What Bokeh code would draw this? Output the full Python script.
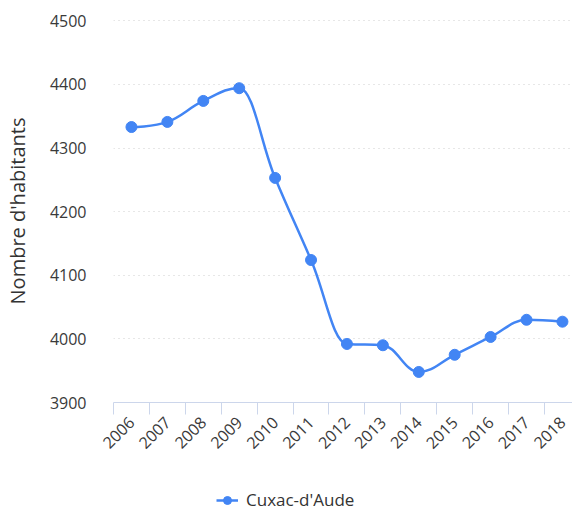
import numpy as np
from bokeh.plotting import figure
from bokeh.layouts import column
from bokeh.models import FixedTicker, Range1d, Legend, LegendItem
from bokeh.embed import file_html
from bokeh.resources import INLINE

years = ["2006", "2007", "2008", "2009", "2010", "2011", "2012",
         "2013", "2014", "2015", "2016", "2017", "2018"]
population = [4333, 4341, 4374, 4394, 4253, 4124, 3992,
              3990, 3948, 3975, 4003, 4030, 4027]
series_name = "Cuxac-d'Aude"
y_ticks = [3900, 4000, 4100, 4200, 4300, 4400, 4500]

BLUE = "#4285F4"
FONT = "Open Sans"

x = np.arange(len(years), dtype=float)
y = np.array(population, dtype=float)

# Highcharts-style spline control points
n = len(x)
left_c = [None] * n
right_c = [None] * n
sm = 1.5
den = sm + 1
for i in range(1, n - 1):
    px, py = x[i], y[i]
    lx, ly = x[i - 1], y[i - 1]
    nx, ny = x[i + 1], y[i + 1]
    lcx = (sm * px + lx) / den
    lcy = (sm * py + ly) / den
    rcx = (sm * px + nx) / den
    rcy = (sm * py + ny) / den
    if rcx != lcx:
        corr = ((rcy - lcy) * (rcx - px)) / (rcx - lcx) + py - rcy
        lcy += corr
        rcy += corr
    if lcy > max(ly, py):
        lcy = max(ly, py)
        rcy = 2 * py - lcy
    elif lcy < min(ly, py):
        lcy = min(ly, py)
        rcy = 2 * py - lcy
    if rcy > max(py, ny):
        rcy = max(py, ny)
        lcy = 2 * py - rcy
    elif rcy < min(py, ny):
        rcy = min(py, ny)
        lcy = 2 * py - rcy
    left_c[i] = (lcx, lcy)
    right_c[i] = (rcx, rcy)

x0, y0, x1, y1, cx0, cy0, cx1, cy1 = [], [], [], [], [], [], [], []
for i in range(1, n):
    x0.append(x[i - 1]); y0.append(y[i - 1])
    x1.append(x[i]); y1.append(y[i])
    rc = right_c[i - 1] if right_c[i - 1] else (x[i - 1], y[i - 1])
    lc = left_c[i] if left_c[i] else (x[i], y[i])
    cx0.append(rc[0]); cy0.append(rc[1])
    cx1.append(lc[0]); cy1.append(lc[1])

p = figure(width=572, height=465, output_backend="svg", toolbar_location=None,
           x_range=Range1d(-0.5, 12.28), y_range=Range1d(3900, 4502),
           min_border_left=104, min_border_right=0, min_border_top=19,
           min_border_bottom=63)
p.outline_line_color = None
p.background_fill_color = "white"
p.border_fill_color = "white"

p.bezier(x0=x0, y0=y0, x1=x1, y1=y1, cx0=cx0, cy0=cy0, cx1=cx1, cy1=cy1,
         line_color=BLUE, line_width=2.5)
p.scatter(x, y, size=11, fill_color=BLUE, line_color=BLUE)

# X axis
xax = p.xaxis[0]
xax.ticker = FixedTicker(ticks=list(range(len(years))),
                         minor_ticks=[i - 0.5 for i in range(len(years) + 1)])
xax.major_label_overrides = {i: yr for i, yr in enumerate(years)}
xax.major_tick_line_color = None
xax.major_tick_out = 0
xax.major_tick_in = 0
xax.minor_tick_line_color = "#ccd6eb"
xax.minor_tick_out = 12
xax.minor_tick_in = 0
xax.axis_line_color = "#ccd6eb"
xax.major_label_orientation = np.pi / 4
xax.major_label_text_font = FONT
xax.major_label_text_font_size = "16px"
xax.major_label_text_color = "#3a3a3a"
xax.major_label_standoff = 5

# Y axis
yax = p.yaxis[0]
yax.ticker = FixedTicker(ticks=y_ticks)
yax.axis_line_color = None
yax.major_tick_line_color = None
yax.minor_tick_line_color = None
yax.major_label_text_font = FONT
yax.major_label_text_font_size = "16px"
yax.major_label_text_color = "#3a3a3a"
yax.major_label_standoff = 21
yax.axis_label = "Nombre d'habitants"
yax.axis_label_text_font = FONT
yax.axis_label_text_font_style = "normal"
yax.axis_label_text_font_size = "20px"
yax.axis_label_text_color = "#333333"
yax.axis_label_standoff = 16

p.xgrid.grid_line_color = None
p.ygrid.grid_line_color = "#cfcfcf"
p.ygrid.grid_line_dash = "1 4"
p.ygrid.grid_line_width = 1

# Legend strip
lg = figure(width=572, height=48, output_backend="svg", toolbar_location=None,
            x_axis_type=None, y_axis_type=None, min_border=0,
            x_range=Range1d(0, 1), y_range=Range1d(0, 1))
lg.outline_line_color = None
lg.xgrid.grid_line_color = None
lg.ygrid.grid_line_color = None
leg_line = lg.line([np.nan], [np.nan], line_color=BLUE, line_width=2.5)
leg_pt = lg.scatter([np.nan], [np.nan], size=11, fill_color=BLUE, line_color=BLUE)
legend = Legend(items=[LegendItem(label=series_name, renderers=[leg_line, leg_pt])],
                location=(103, 2), orientation="horizontal",
                label_text_font=FONT, label_text_font_size="17px",
                label_text_color="#333333", border_line_color=None,
                background_fill_alpha=0, padding=0, margin=0,
                glyph_width=22, label_standoff=8)
lg.add_layout(legend, "center")

layout = column(p, lg, spacing=0)
open("out.html", "w").write(file_html(layout, INLINE))
